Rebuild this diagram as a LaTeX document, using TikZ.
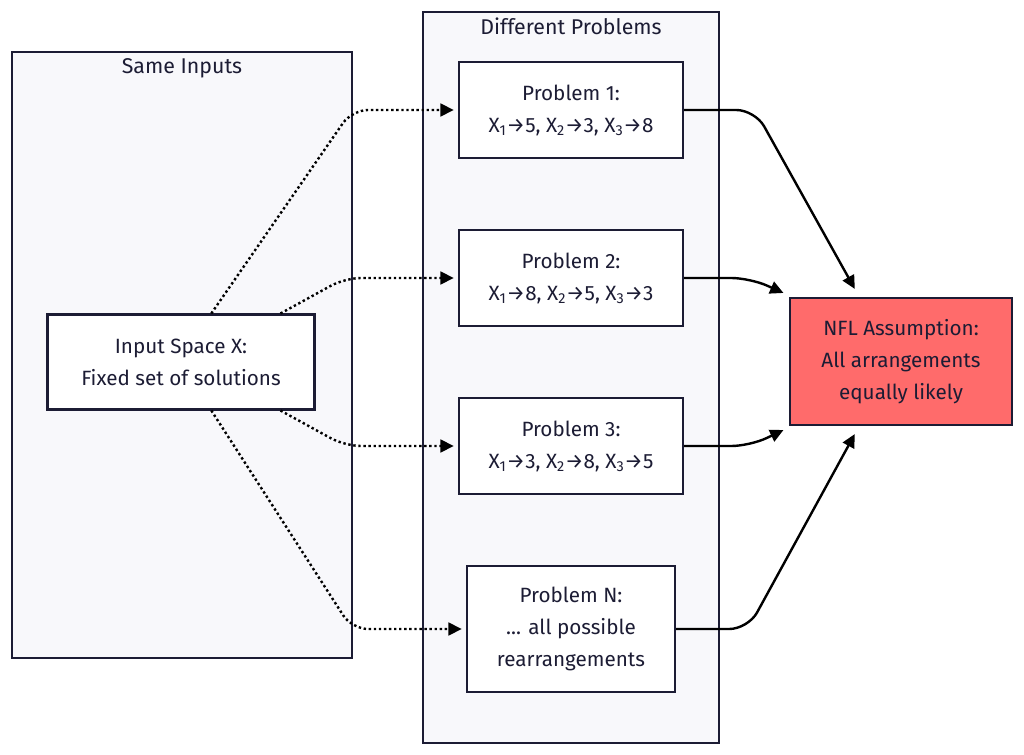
\documentclass[tikz,border=0pt]{standalone}
\usepackage{fontspec}
\setmainfont{Fira Sans}
\usetikzlibrary{arrows.meta}
\definecolor{ink}{HTML}{1C1C34}
\definecolor{panel}{HTML}{F8F8FB}
\definecolor{alert}{HTML}{FF6B6B}
\tikzset{
  group/.style={draw=ink,fill=panel,line width=1.5pt,inner sep=0pt},
  grouplabel/.style={text=ink,font=\fontsize{16}{18}\selectfont},
  box/.style={draw=ink,fill=white,line width=1.8pt,align=center,text=ink,inner sep=0pt,
    font=\fontsize{15.5}{24}\selectfont},
  feed/.style={-{Triangle[length=10pt,width=9.5pt]},line width=1.8pt,dotted,rounded corners=12pt},
  link/.style={-{Triangle[length=10pt,width=9.5pt]},line width=1.8pt,rounded corners=14pt}
}
\begin{document}
\begin{tikzpicture}[x=0.75pt,y=-0.75pt]
\useasboundingbox (0,0) rectangle (1024,755);

% groups
\node[group,minimum width=255pt,minimum height=454.5pt] (same) at (182,355) {};
\node[grouplabel] at (182,68) {Same Inputs};
\node[group,minimum width=222pt,minimum height=548pt] (diff) at (571,377.5) {};
\node[grouplabel] at (571,26) {Different Problems};

% nodes
\node[box,minimum width=200pt,minimum height=71pt] (inp) at (181,362) {Input Space X:\\Fixed set of solutions};
\node[box,minimum width=168pt,minimum height=72pt] (prob1) at (571,110)
  {Problem 1:\\X\textsubscript{1}→5, X\textsubscript{2}→3, X\textsubscript{3}→8};
\node[box,minimum width=168pt,minimum height=72pt] (prob2) at (571,278)
  {Problem 2:\\X\textsubscript{1}→8, X\textsubscript{2}→5, X\textsubscript{3}→3};
\node[box,minimum width=168pt,minimum height=72pt] (prob3) at (571,446)
  {Problem 3:\\X\textsubscript{1}→3, X\textsubscript{2}→8, X\textsubscript{3}→5};
\node[box,minimum width=156pt,minimum height=94.5pt] (probN) at (571,629)
  {Problem N:\\... all possible\\rearrangements};
\node[box,fill=alert,minimum width=166.5pt,minimum height=95pt] (nfl) at (901,361.5)
  {NFL Assumption:\\All arrangements\\equally likely};

% dotted feeds
\draw[feed] (inp.58) -- (352,110) -- ([xshift=-3pt]prob1.west);
\draw[feed] (inp.26) -- (345,278) -- ([xshift=-3pt]prob2.west);
\draw[feed] (inp.-26) -- (345,446) -- ([xshift=-3pt]prob3.west);
\draw[feed] (inp.-58) -- (352,629) -- ([xshift=-3pt]probN.west);

% solid links
\draw[link] (prob1.east) -- (755,110) -- ([shift={(-2pt,6pt)}]nfl.124);
\draw[link] (prob2.east) -- (750,278) -- ([shift={(-4pt,3pt)}]nfl.north west);
\draw[link] (prob3.east) -- (750,446) -- ([shift={(-4pt,-3pt)}]nfl.south west);
\draw[link] (probN.east) -- (748,629) -- ([shift={(-2pt,-6pt)}]nfl.-124);

\end{tikzpicture}
\end{document}
